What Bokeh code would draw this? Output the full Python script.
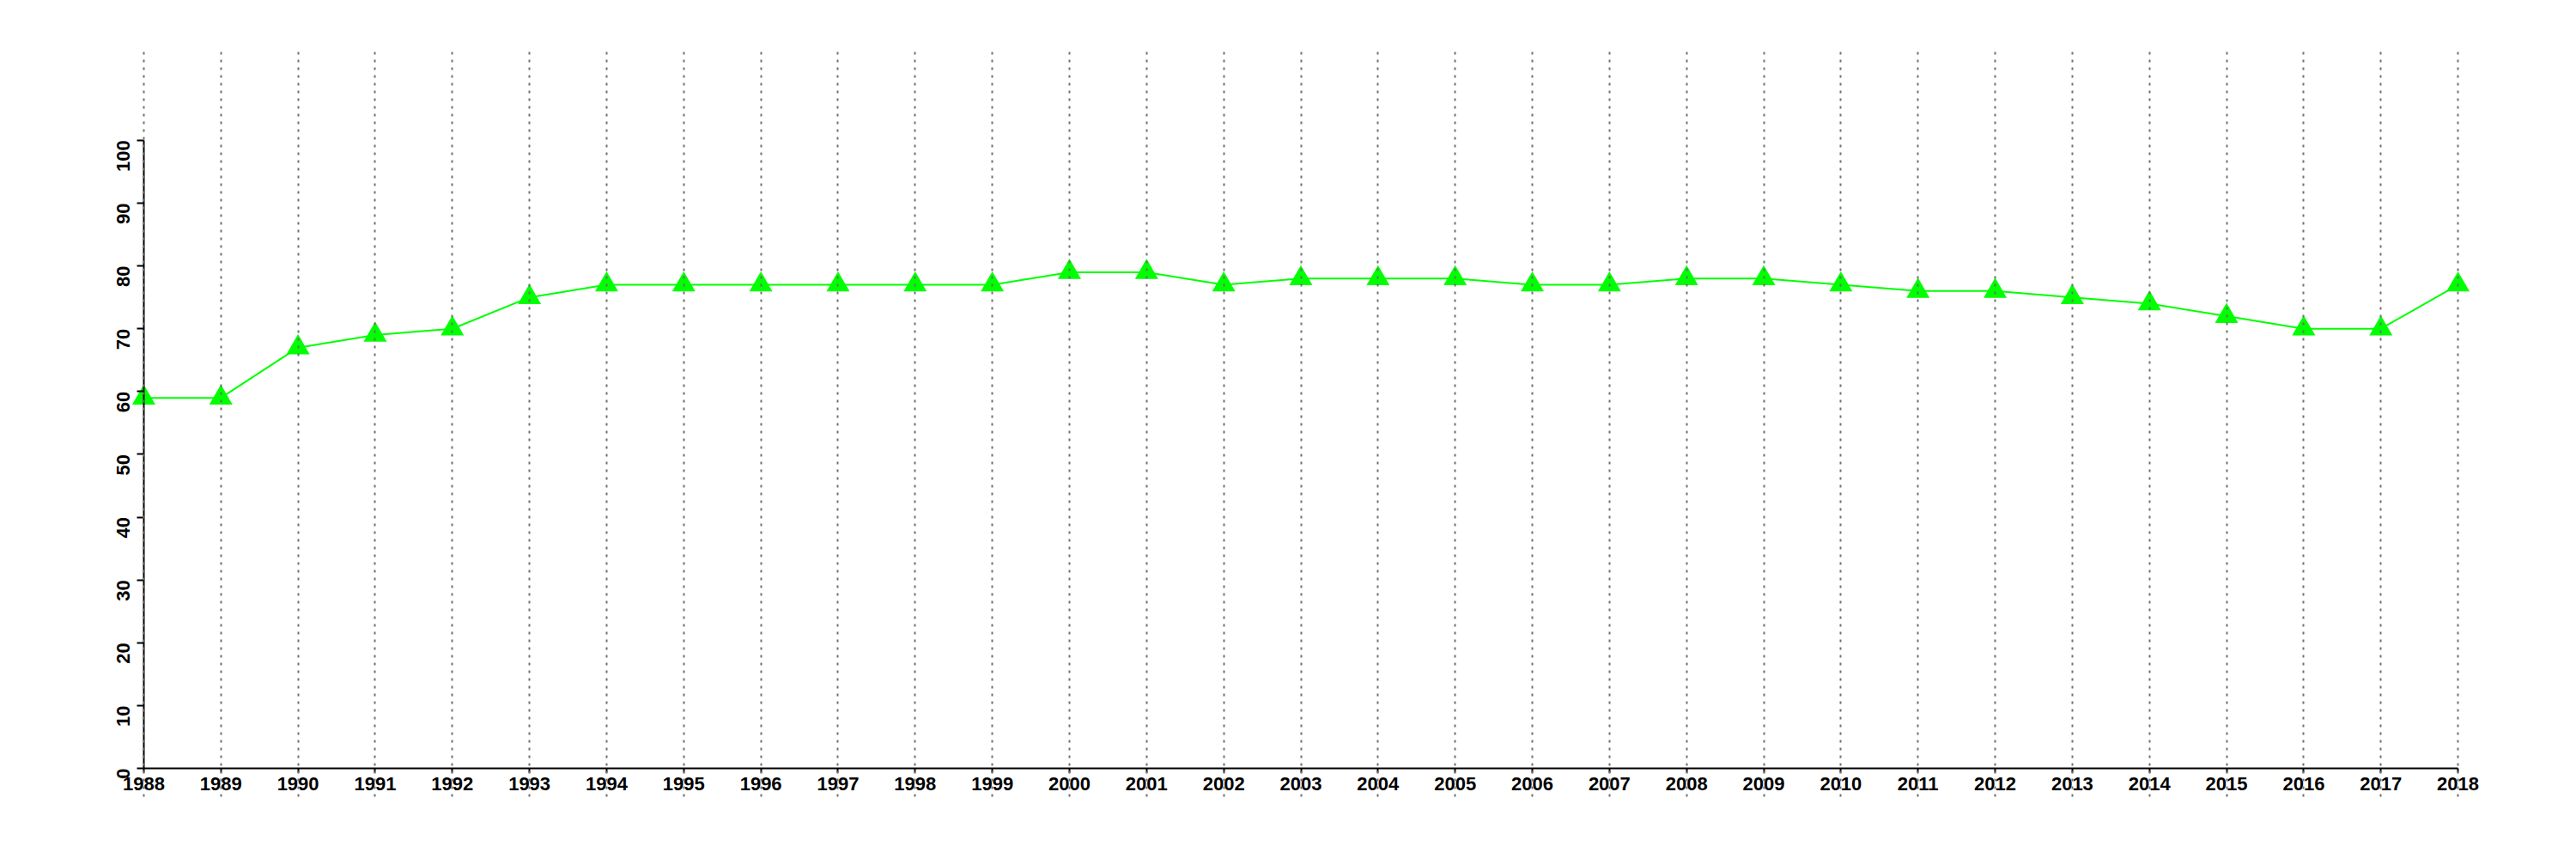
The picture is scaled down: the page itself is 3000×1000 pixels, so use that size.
from bokeh.plotting import figure
from bokeh.models import Range1d, FixedTicker, LinearAxis, Grid
from bokeh.embed import file_html
from bokeh.resources import INLINE
import math

years = list(range(1988, 2019))
values = [59, 59, 67, 69, 70, 75, 77, 77, 77, 77, 77, 77, 79, 79, 77, 78, 78, 78,
          77, 77, 78, 78, 77, 76, 76, 75, 74, 72, 70, 70, 77]
y_ticks = [0, 10, 20, 30, 40, 50, 60, 70, 80, 90, 100]

p = figure(width=2984, height=984, output_backend="svg", toolbar_location=None,
           x_range=Range1d(1987.5, 2018.5), y_range=Range1d(-4.5, 114.2),
           x_axis_location=None, y_axis_location=None,
           min_border_left=122, min_border_top=59, min_border_right=77, min_border_bottom=57,
           frame_width=2785, frame_height=868)
p.outline_line_color = None
p.background_fill_color = "white"
p.border_fill_color = "white"
for g in list(p.grid):
    g.visible = False

xa = LinearAxis(ticker=FixedTicker(ticks=years), fixed_location=0, bounds=(1988, 2018))
ya = LinearAxis(ticker=FixedTicker(ticks=y_ticks), fixed_location=1988, bounds=(0, 100))
for ax in (xa, ya):
    ax.axis_line_color = "black"
    ax.axis_line_width = 2
    ax.major_tick_line_color = "black"
    ax.major_tick_line_width = 2
    ax.major_tick_in = 0
    ax.minor_tick_line_color = None
    ax.major_label_text_font = "Liberation Sans"
    ax.major_label_text_font_style = "bold"
    ax.major_label_text_font_size = "22px"
    ax.major_label_text_color = "black"
xa.major_tick_out = 5
xa.major_label_standoff = 5
ya.major_tick_out = 8
ya.major_label_standoff = 16
ya.major_label_orientation = math.pi / 2
p.add_layout(xa, "below")
p.add_layout(ya, "left")

vg = Grid(dimension=0, ticker=FixedTicker(ticks=years))
vg.grid_line_color = "#707070"
vg.grid_line_width = 2
vg.grid_line_dash = "3 6"
vg.level = "overlay"
p.add_layout(vg)

p.line(years, values, line_color="#00ff00", line_width=2)
p.scatter(years, values, marker="triangle", size=27, fill_color="#00ff00", line_color=None)

open("out.html", "w").write(file_html(p, INLINE))
